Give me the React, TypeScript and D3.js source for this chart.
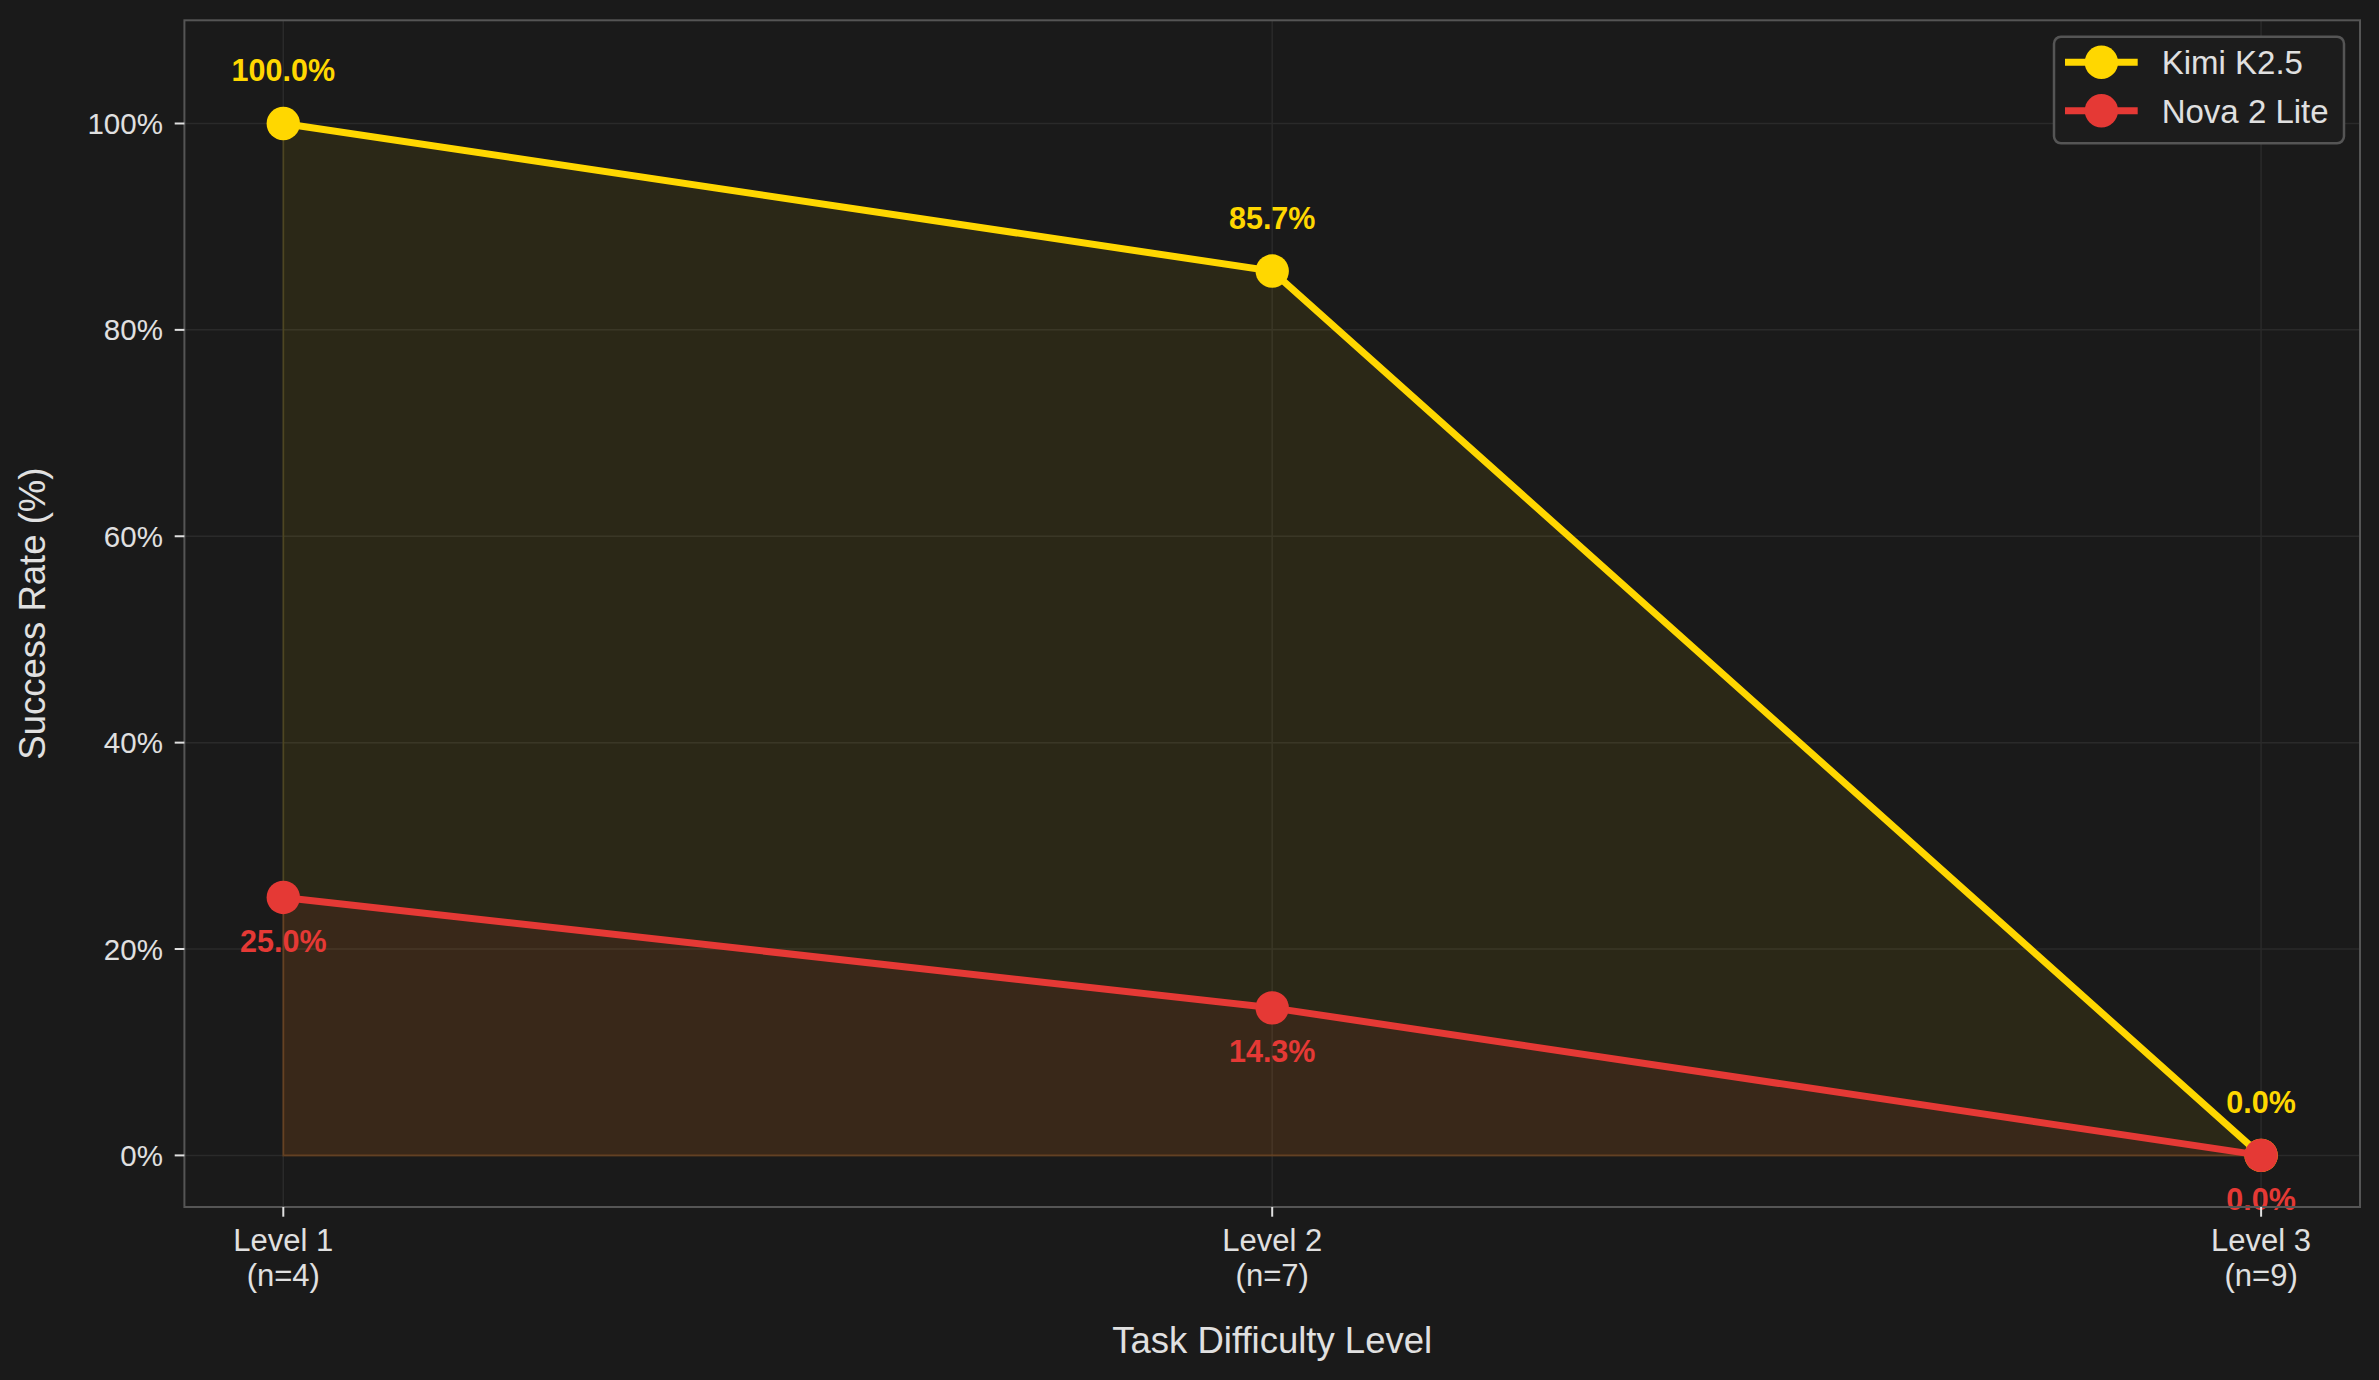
import * as d3 from "d3";

const categories = ["Level 1", "Level 2", "Level 3"];
const sampleCounts = [4, 7, 9];
const kimiRates = [100, 85.7, 0];
const novaRates = [25, 14.3, 0];
const yTicks = [0, 20, 40, 60, 80, 100];

const W = 2379;
const H = 1380;
const PLOT = { left: 184.4, right: 2360, top: 20.3, bottom: 1207 };
const BG = "#1a1a1a";
const GOLD = "#FFD700";
const RED = "#E53935";
const TEXT = "#e0e0e0";
const SPINE = "#555555";
const GRID = "#2a2a2a";
const FONT = "'Liberation Sans', Arial, sans-serif";

const series = [
  { name: "Kimi K2.5", color: GOLD, values: kimiRates, labelBelow: false },
  { name: "Nova 2 Lite", color: RED, values: novaRates, labelBelow: true },
];

export default function App() {
  const x = d3.scaleLinear().domain([-0.1, 2.1]).range([PLOT.left, PLOT.right]);
  const y = d3.scaleLinear().domain([-5, 110]).range([PLOT.bottom, PLOT.top]);

  const line = d3
    .line<number>()
    .x((_, i) => x(i))
    .y((d) => y(d));
  const area = d3
    .area<number>()
    .x((_, i) => x(i))
    .y0(y(0))
    .y1((d) => y(d));

  const plotW = PLOT.right - PLOT.left;
  const plotH = PLOT.bottom - PLOT.top;

  return (
    <div style={{ position: "fixed", left: 0, top: 0, width: W, height: H, background: BG }}>
      <svg width={W} height={H} style={{ display: "block", fontFamily: FONT }}>
        <rect x={0} y={0} width={W} height={H} fill={BG} />

        {/* grid */}
        {yTicks.map((t) => (
          <line key={`gy${t}`} x1={PLOT.left} x2={PLOT.right} y1={y(t)} y2={y(t)} stroke={GRID} strokeWidth={1.5} />
        ))}
        {categories.map((c, i) => (
          <line key={`gx${c}`} x1={x(i)} x2={x(i)} y1={PLOT.top} y2={PLOT.bottom} stroke={GRID} strokeWidth={1.5} />
        ))}

        {/* filled areas */}
        {series.map((s) => (
          <path
            key={`a${s.name}`}
            d={area(s.values) ?? ""}
            fill={s.color}
            fillOpacity={0.08}
            stroke={s.color}
            strokeOpacity={0.12}
            strokeWidth={2}
          />
        ))}

        {/* lines + markers */}
        {series.map((s) => (
          <g key={`l${s.name}`}>
            <path d={line(s.values) ?? ""} fill="none" stroke={s.color} strokeWidth={7} strokeLinejoin="round" />
            {s.values.map((v, i) => (
              <circle key={i} cx={x(i)} cy={y(v)} r={16.7} fill={s.color} />
            ))}
          </g>
        ))}

        {/* value labels */}
        {series.map((s) =>
          s.values.map((v, i) => (
            <text
              key={`t${s.name}${i}`}
              x={x(i)}
              y={s.labelBelow ? y(v) + 54.4 : y(v) - 42}
              textAnchor="middle"
              fill={s.color}
              fontSize={30.5}
              fontWeight="bold"
            >
              {`${v.toFixed(1)}%`}
            </text>
          )),
        )}

        {/* spines */}
        <rect x={PLOT.left} y={PLOT.top} width={plotW} height={plotH} fill="none" stroke={SPINE} strokeWidth={2} />

        {/* y axis */}
        {yTicks.map((t) => (
          <g key={`yt${t}`}>
            <line x1={PLOT.left - 9.7} x2={PLOT.left} y1={y(t)} y2={y(t)} stroke={TEXT} strokeWidth={2} />
            <text x={PLOT.left - 21.5} y={y(t) + 10.6} textAnchor="end" fill={TEXT} fontSize={29.5}>
              {`${t}%`}
            </text>
          </g>
        ))}

        {/* x axis */}
        {categories.map((c, i) => (
          <g key={`xt${c}`}>
            <line x1={x(i)} x2={x(i)} y1={PLOT.bottom} y2={PLOT.bottom + 9.7} stroke={TEXT} strokeWidth={2} />
            <text x={x(i)} y={1251} textAnchor="middle" fill={TEXT} fontSize={31}>
              {c}
            </text>
            <text x={x(i)} y={1286} textAnchor="middle" fill={TEXT} fontSize={31}>
              {`(n=${sampleCounts[i]})`}
            </text>
          </g>
        ))}

        {/* axis titles */}
        <text x={(PLOT.left + PLOT.right) / 2} y={1353.3} textAnchor="middle" fill={TEXT} fontSize={36.5}>
          Task Difficulty Level
        </text>
        <text
          transform={`translate(45,${(PLOT.top + PLOT.bottom) / 2}) rotate(-90)`}
          textAnchor="middle"
          fill={TEXT}
          fontSize={36.5}
        >
          Success Rate (%)
        </text>

        {/* legend */}
        <rect x={2054} y={36.7} width={290} height={106.6} rx={7} fill="#1c1c1c" stroke={SPINE} strokeWidth={2.5} />
        {series.map((s, i) => {
          const cy = 62.3 + i * 48.4;
          return (
            <g key={`lg${s.name}`}>
              <line x1={2065} x2={2137.7} y1={cy} y2={cy} stroke={s.color} strokeWidth={7} />
              <circle cx={2101.4} cy={cy} r={16.7} fill={s.color} />
              <text x={2161.7} y={cy + 12} fill={TEXT} fontSize={33}>
                {s.name}
              </text>
            </g>
          );
        })}
      </svg>
    </div>
  );
}
